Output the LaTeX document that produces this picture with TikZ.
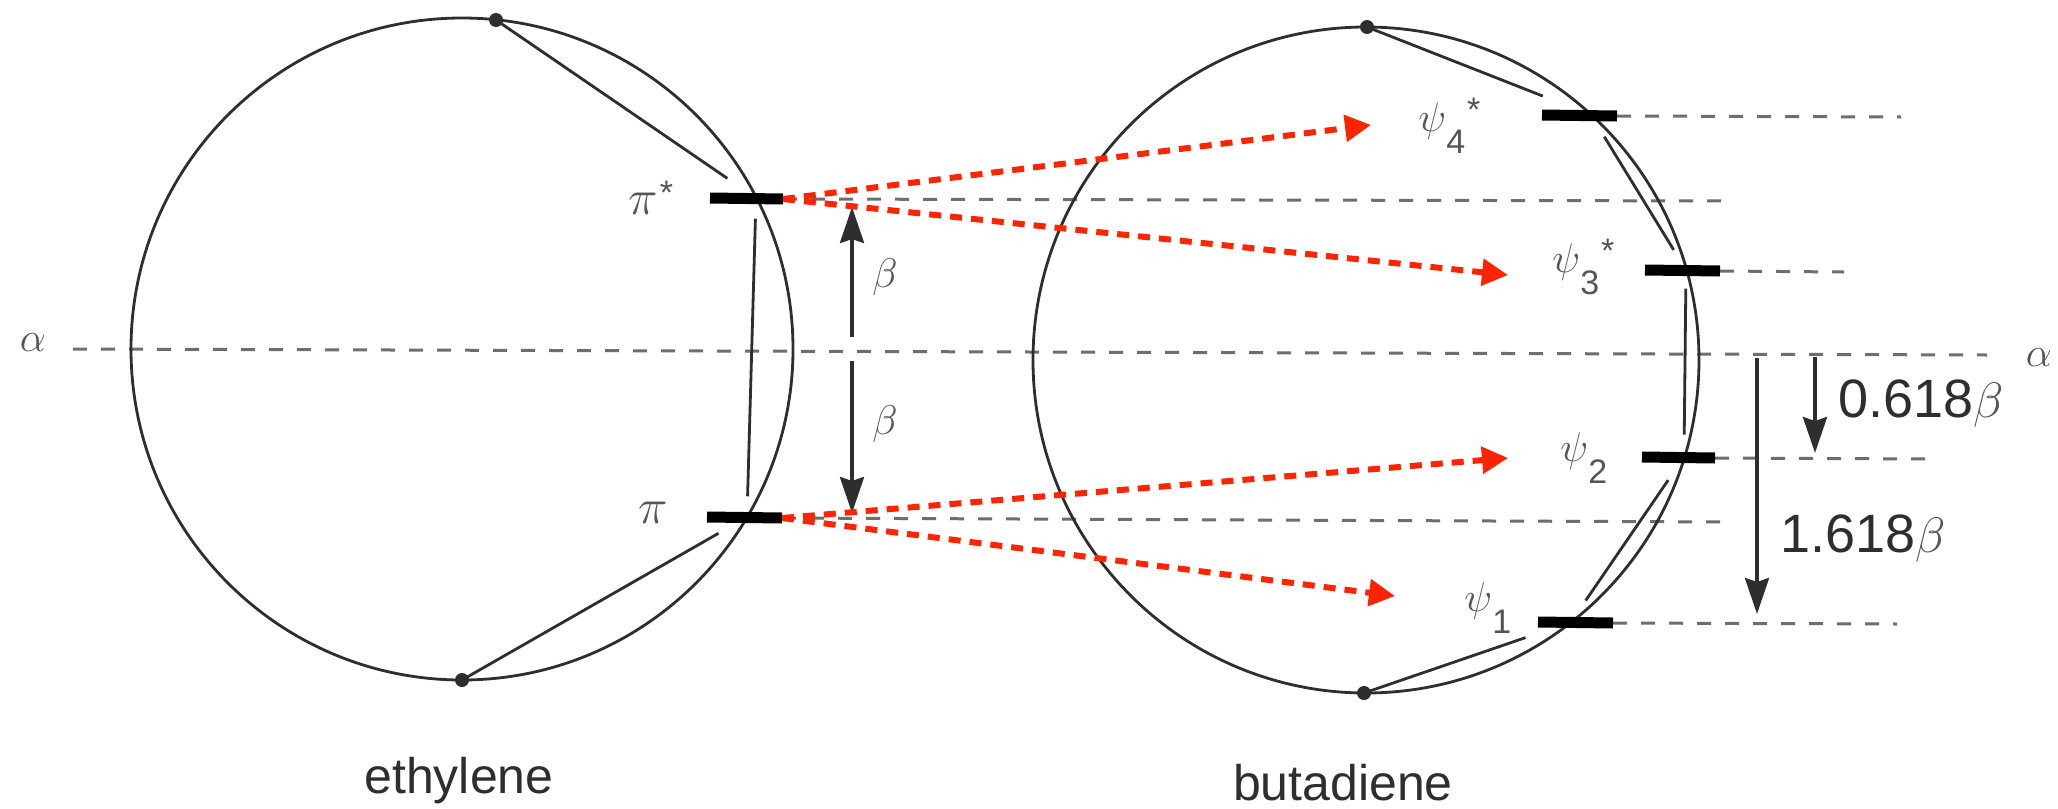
\documentclass[tikz,border=0pt]{standalone}
\usepackage{fontspec}
\setmainfont{Liberation Sans}
\usepackage{amsmath}
\usetikzlibrary{arrows.meta,calc}
\definecolor{ink}{HTML}{2E2E2E}
\definecolor{dashgray}{HTML}{6E6E6E}
\definecolor{greek}{HTML}{555555}
\definecolor{redarrow}{HTML}{FF2400}
\newcommand{\orblab}[3]{#1\raisebox{-11pt}{\fontsize{17}{17}\selectfont #2}\hspace{1pt}\raisebox{5pt}{\fontsize{17}{17}\selectfont #3}}
\begin{document}
\begin{tikzpicture}[x=0.5pt,y=-0.5pt,
  ring/.style={draw=ink,line width=1.4pt},
  chord/.style={draw=ink,line width=1.4pt},
  levelbar/.style={draw=black,line width=5.5pt},
  lvl/.style={draw=dashgray,line width=1.5pt,dash pattern=on 7pt off 7pt},
  redarr/.style={draw=redarrow,line width=3pt,dash pattern=on 6pt off 4.5pt,
     -{Triangle[length=13pt,width=13pt]}},
  gaparrow/.style={draw=ink,line width=1.8pt,-{Stealth[length=18pt,width=12pt,inset=2pt]}},
  atom/.style={circle,fill=ink,inner sep=0pt,minimum size=7pt},
  grk/.style={inner sep=0pt,text=greek,font=\fontsize{22}{22}\selectfont},
  word/.style={inner sep=0pt,text=ink,font=\fontsize{25}{25}\selectfont},
  num/.style={inner sep=0pt,text=ink,font=\fontsize{27}{27}\selectfont,anchor=west}]
\useasboundingbox (0,0) rectangle (2058,809);
\fill[white] (0,0) rectangle (2058,809);

% ---- key points
\coordinate (Lc) at (462,349);
\coordinate (Pstar) at (756,198);
\coordinate (P) at (747,517);
\coordinate (Rc) at (1366,360);
\coordinate (S4) at (1591,115);
\coordinate (S3) at (1686,270);
\coordinate (S2) at (1684,457);
\coordinate (S1) at (1571,622);

% ---- dashed energy levels
\draw[lvl] (73,349) coordinate (aL) -- (1987,355) coordinate (aR);
\draw[lvl] (783,199) coordinate (pstarR) -- (1730,201) coordinate (pstarE);
\draw[lvl] (782,518) coordinate (piR) -- (1730,522) coordinate (piE);
\draw[lvl] (1617,116) coordinate (s4R) -- (1901,117) coordinate (s4E);
\draw[lvl] (1720,271) coordinate (s3R) -- (1844,272) coordinate (s3E);
\draw[lvl] (1715,458) coordinate (s2R) -- (1928,459) coordinate (s2E);
\draw[lvl] (1613,623) coordinate (s1R) -- (1897,624) coordinate (s1E);

% ---- circles
\draw[ring] (Lc) circle (165.5pt);
\draw[ring] (Rc) circle (166.5pt);

% ---- atoms
\node[atom] (Ltop) at (496,20) {};
\node[atom] (Lbot) at (462,680) {};
\node[atom] (Rtop) at (1367,27) {};
\node[atom] (Rbot) at (1364,693) {};

% ---- chords (ethylene)
\draw[chord] (Ltop.center) -- ($(Ltop.center)!0.89!(Pstar)$);
\draw[chord] ($(Pstar)!0.065!(P)$) -- ($(Pstar)!0.935!(P)$);
\draw[chord] ($(P)!0.1!(Lbot.center)$) -- (Lbot.center);

% ---- chords (butadiene)
\draw[chord] (Rtop.center) -- ($(Rtop.center)!0.785!(S4)$);
\draw[chord] ($(S4)!0.14!(S3)$) -- ($(S4)!0.87!(S3)$);
\draw[chord] ($(S3)!0.1!(S2)$) -- ($(S3)!0.88!(S2)$);
\draw[chord] ($(S2)!0.14!(S1)$) -- ($(S2)!0.87!(S1)$);
\draw[chord] ($(S1)!0.22!(Rbot.center)$) -- (Rbot.center);

% ---- level bars
\draw[levelbar] (710,198) coordinate (pstarL) -- (pstarR);
\draw[levelbar] (707,517) coordinate (piL) -- (piR);
\draw[levelbar] (1542,115) coordinate (s4L) -- (s4R);
\draw[levelbar] (1645,270) coordinate (s3L) -- (s3R);
\draw[levelbar] (1642,457) coordinate (s2L) -- (s2R);
\draw[levelbar] (1538,622) coordinate (s1L) -- (s1R);

% ---- labels
\node[grk] (alphaL) at (33,343) {$\alpha$};
\node[grk] (alphaR) at (2039,358) {$\alpha$};
\node[grk,anchor=base west] (lpistar) at (628,214) {\orblab{\fontsize{26}{26}\selectfont$\pi$}{}{*}};
\node[grk,anchor=base west,font=\fontsize{26}{26}\selectfont] (lpi) at (638,523) {$\pi$};
\node[grk,anchor=base west] (l4) at (1418,131) {\orblab{$\psi$}{4}{*}};
\node[grk,anchor=base west] (l3) at (1552,272) {\orblab{$\psi$}{3}{*}};
\node[grk,anchor=base west] (l2) at (1560,461) {\orblab{$\psi$}{2}{}};
\node[grk,anchor=base west] (l1) at (1464,611) {\orblab{$\psi$}{1}{}};
\node[grk] (b1) at (885,277) {$\beta$};
\node[grk] (b2) at (885,424) {$\beta$};
\node[num] (n618) at (1838,403) {0.618{\color{greek}$\beta$}};
\node[num] (n1618) at (1780,538) {1.618{\color{greek}$\beta$}};
\node[word] (eth) at (459,781) {ethylene};
\node[word] (but) at (1343,783) {butadiene};

% ---- gap arrows
\coordinate (gA) at (852,337);
\coordinate (gB) at (852,361);
\draw[gaparrow] (gA) -- (852,207) coordinate (gAt);
\draw[gaparrow] (gB) -- (852,513) coordinate (gBt);
\draw[gaparrow] (1757,358) coordinate (hA) -- (1757,614) coordinate (hAt);
\draw[gaparrow] (1815,357) coordinate (kA) -- (1815,453) coordinate (kAt);

% ---- red correlation arrows
\coordinate (t4) at (1371,125);
\coordinate (t3) at (1508,275);
\coordinate (t2) at (1508,458);
\coordinate (t1) at (1395,596);
\draw[redarr] (pstarR) -- (t4);
\draw[redarr] (pstarR) -- (t3);
\draw[redarr] (piR) -- (t2);
\draw[redarr] (piR) -- (t1);
\end{tikzpicture}
\end{document}
